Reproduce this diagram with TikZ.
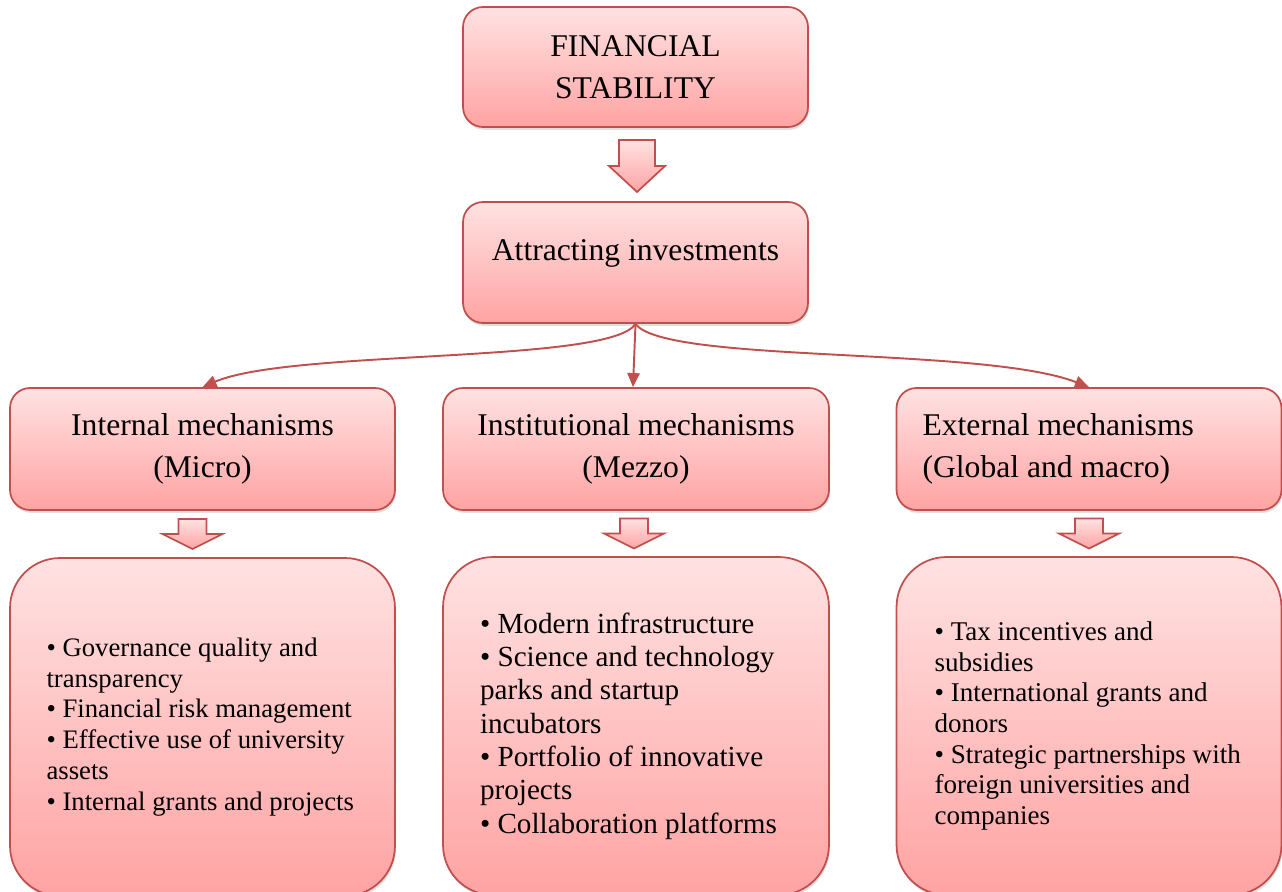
\documentclass[tikz,border=0pt]{standalone}
\usepackage{fontspec}
\setmainfont{Liberation Serif}
\usetikzlibrary{arrows.meta,calc,shadows}
\definecolor{edge}{RGB}{192,80,77}
\definecolor{pinktop}{RGB}{255,226,226}
\definecolor{pinkbot}{RGB}{255,163,163}
\tikzset{
  box/.style={draw=edge, line width=1pt, rounded corners=0.4cm, top color=pinktop, bottom color=pinkbot,
    drop shadow={opacity=0.25, shadow xshift=0.6pt, shadow yshift=-1.6pt}, inner sep=0pt},
  bigfont/.style={font=\fontsize{18pt}{23.8pt}\selectfont},
  listbox/.style={box, rounded corners=1cm, minimum width=7.7cm, minimum height=6.76cm,
    text width=6.24cm, inner xsep=0.73cm, align=flush left},
  link/.style={draw=edge, line width=1.1pt, -{Triangle[length=8pt,width=7pt]}},
  barrow/.style={draw=edge, line width=1pt, top color=pinktop, bottom color=pinkbot},
  pics/blockdown/.style args={#1/#2/#3}{code={
    \draw[barrow] (-#1,-#3) -- (#1,-#3) -- (#1,0) -- (#2,0) -- (0,#3) -- (-#2,0) -- (-#1,0) -- cycle;}}
}
\begin{document}
\begin{tikzpicture}[x=0.02cm, y=-0.02cm]
    \useasboundingbox (0,0) rectangle (1282,892);
    % top
    \node [box, bigfont, minimum width=6.9cm, minimum height=2.4cm, align=center] (fin) at (635.5,67) {FINANCIAL\\STABILITY};
    \node [box, bigfont, minimum width=6.9cm, minimum height=2.42cm, text depth=14pt] (attr) at (635.5,262.5) {Attracting investments};
    \pic at ($(fin.south)!0.5!(attr.north)+(1.5,1.5)$) {blockdown=18/28/26};
    % mechanisms
    \node [box, bigfont, minimum width=7.7cm, minimum height=2.44cm, align=center] (intl) at (202.5,449) {Internal mechanisms\\(Micro)};
    \node [box, bigfont, minimum width=7.72cm, minimum height=2.44cm, align=center] (inst) at (636,449) {Institutional mechanisms\\(Mezzo)};
    \node [box, bigfont, minimum width=7.7cm, minimum height=2.44cm, text width=6.66cm, inner xsep=0.52cm, align=flush left] (extl) at (1089,449) {External mechanisms\\(Global and macro)};
    \draw [link] (attr.south) .. controls +(-25,40) and +(88,-38) .. (intl.north);
    \draw [link] (attr.south) -- ([xshift=-0.06cm]inst.north);
    \draw [link] (attr.south) .. controls +(29,40) and +(-106,-41) .. (extl.north);
    % lists
    \node [listbox, font=\fontsize{15.2pt}{17.6pt}\selectfont] (imicro) at (202.5,727) {• Governance quality and\\transparency\\• Financial risk management\\• Effective use of university\\assets\\• Internal grants and projects};
    \node [listbox, minimum width=7.72cm, font=\fontsize{16.6pt}{19pt}\selectfont] (imezzo) at (636,726) {• Modern infrastructure\\• Science and technology\\parks and startup\\incubators\\• Portfolio of innovative\\projects\\• Collaboration platforms};
    \node [listbox, font=\fontsize{15.4pt}{17.4pt}\selectfont, inner xsep=0.76cm, text width=6.18cm] (imacro) at (1089,726) {• Tax incentives and\\subsidies\\• International grants and\\donors\\• Strategic partnerships with\\foreign universities and\\companies};
    \pic at ($(intl.south)!0.5!(imicro.north)+(-10,0)$) {blockdown=14/30/15};
    \pic at ($(inst.south)!0.5!(imezzo.north)+(-2,0)$) {blockdown=14/30/15};
    \pic at ($(extl.south)!0.5!(imacro.north)$) {blockdown=14/30/15};
\end{tikzpicture}
\end{document}
